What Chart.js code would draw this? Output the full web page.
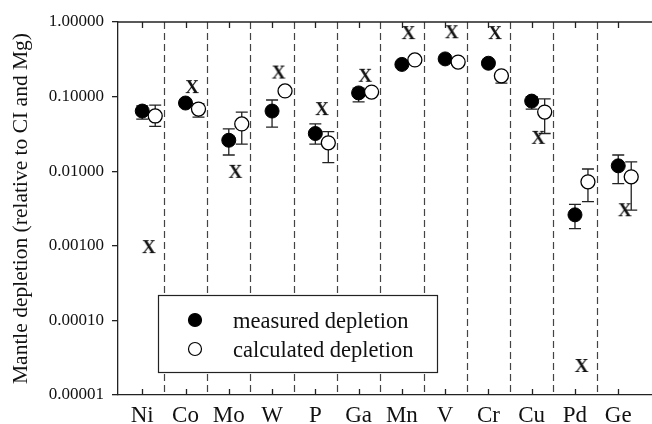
<!DOCTYPE html>
<html>
<head>
<meta charset="utf-8">
<script src="https://cdn.jsdelivr.net/npm/chart.js@4"></script>
<style>
  html, body { margin: 0; padding: 0; background: #fff; overflow: hidden; }
  #wrap { width: 652px; height: 424px; }
</style>
</head>
<body>
<div id="wrap"><canvas id="graph_zone"></canvas></div>
<script>
// data
let elements = ['Ni', 'Co', 'Mo', 'W', 'P', 'Ga', 'Mn', 'V', 'Cr', 'Cu', 'Pd', 'Ge'];

let measured = [0.064, 0.082, 0.026, 0.064, 0.032, 0.112, 0.27, 0.32, 0.28, 0.087, 0.0026, 0.0118];
let measuredLow = [0.050, null, 0.0165, 0.039, 0.023, 0.085, null, null, null, 0.068, 0.0017, 0.0068];
let measuredHigh = [0.075, null, 0.037, 0.090, 0.043, 0.13, null, null, null, 0.10, 0.0036, 0.0165];

let calculated = [0.055, 0.068, 0.043, 0.119, 0.024, 0.115, 0.31, 0.29, 0.19, 0.062, 0.0072, 0.0084];
let calculatedLow = [0.040, 0.053, 0.023, null, 0.013, null, null, null, 0.152, 0.032, 0.0039, 0.0030];
let calculatedHigh = [0.077, 0.08, 0.062, null, 0.034, null, null, null, 0.21, 0.093, 0.0107, 0.0133];

let model = [0.00096, 0.134, 0.0098, 0.21, 0.068, 0.19, 0.71, 0.73, 0.71, 0.028, 0.0000245, 0.0030];

let yTicks = [0.00001, 0.0001, 0.001, 0.01, 0.1, 1];

const serif = '"Liberation Serif", "DejaVu Serif", serif';

// bold serif "X" used as a point style
let xMark = document.createElement('canvas');
xMark.width = 18;
xMark.height = 18;
let xc = xMark.getContext('2d');
xc.font = 'bold 19px ' + serif;
xc.textAlign = 'center';
xc.textBaseline = 'middle';
xc.fillStyle = '#111';
xc.fillText('X', 9, 10);

function pts(values, shift) {
    return values.map((v, i) => ({ x: i + shift, y: v }));
}

let decorations = {
    id: 'decorations',
    beforeDatasetsDraw(chart) {
        let ctx = chart.ctx;
        let ca = chart.chartArea;
        let x = chart.scales.x;
        let y = chart.scales.y;
        ctx.save();
        // dashed separators
        ctx.strokeStyle = '#444';
        ctx.lineWidth = 1.2;
        ctx.setLineDash([7, 4]);
        for (let i = 0; i < elements.length - 1; i++) {
            let px = Math.round(x.getPixelForValue(i + 0.5)) + 0.5;
            ctx.beginPath();
            ctx.moveTo(px, ca.top);
            ctx.lineTo(px, ca.bottom);
            ctx.stroke();
        }
        ctx.setLineDash([]);
        // top frame line + inward ticks
        ctx.strokeStyle = '#222';
        ctx.lineWidth = 1.3;
        ctx.beginPath();
        ctx.moveTo(ca.left, ca.top);
        ctx.lineTo(ca.right, ca.top);
        ctx.stroke();
        elements.forEach((e, i) => {
            let px = Math.round(x.getPixelForValue(i)) + 0.5;
            ctx.beginPath();
            ctx.moveTo(px, ca.top);
            ctx.lineTo(px, ca.top + 6);
            ctx.moveTo(px, ca.bottom);
            ctx.lineTo(px, ca.bottom - 6);
            ctx.stroke();
        });
        // error bars
        ctx.strokeStyle = '#222';
        ctx.lineWidth = 1.3;
        function bars(lo, hi, shift) {
            lo.forEach((l, i) => {
                if (l == null) return;
                let px = x.getPixelForValue(i + shift);
                let y1 = y.getPixelForValue(l);
                let y2 = y.getPixelForValue(hi[i]);
                ctx.beginPath();
                ctx.moveTo(px, y1);
                ctx.lineTo(px, y2);
                ctx.moveTo(px - 6, y1);
                ctx.lineTo(px + 6, y1);
                ctx.moveTo(px - 6, y2);
                ctx.lineTo(px + 6, y2);
                ctx.stroke();
            });
        }
        bars(calculatedLow, calculatedHigh, 0.3);
        bars(measuredLow, measuredHigh, 0);
        ctx.restore();
    },
    afterDatasetsDraw(chart) {
        let ctx = chart.ctx;
        let ca = chart.chartArea;
        let left = ca.left + 40;
        let top = ca.bottom - 100;
        ctx.save();
        ctx.fillStyle = '#fff';
        ctx.fillRect(left, top, 279, 77);
        ctx.strokeStyle = '#222';
        ctx.lineWidth = 1.2;
        ctx.strokeRect(left + 0.5, top + 0.5, 279, 77);
        let rows = [
            { label: chart.data.datasets[0].label, fill: '#000', dy: 25 },
            { label: chart.data.datasets[1].label, fill: '#fff', dy: 54 }
        ];
        rows.forEach(r => {
            ctx.beginPath();
            ctx.arc(left + 37, top + r.dy, 6.5, 0, Math.PI * 2);
            ctx.fillStyle = r.fill;
            ctx.fill();
            ctx.strokeStyle = '#000';
            ctx.lineWidth = 1.2;
            ctx.stroke();
            ctx.fillStyle = '#111';
            ctx.font = '22.5px ' + serif;
            ctx.textBaseline = 'alphabetic';
            ctx.fillText(r.label, left + 75, top + r.dy + 8);
        });
        ctx.restore();
    }
};

let graph = document.querySelector('#graph_zone').getContext('2d');

let myChart = new Chart(graph, {
    type: 'scatter',
    plugins: [decorations],
    data: {
        datasets: [{
            label: 'measured depletion',
            data: pts(measured, 0),
            backgroundColor: '#000',
            borderColor: '#000',
            borderWidth: 1,
            pointRadius: 7,
            order: 2
        },
        {
            label: 'calculated depletion',
            data: pts(calculated, 0.3),
            backgroundColor: '#fff',
            borderColor: '#000',
            borderWidth: 1.3,
            pointRadius: 7,
            order: 1
        },
        {
            label: 'model',
            data: pts(model, 0.15),
            pointStyle: xMark,
            order: 0
        }]
    },
    options: {
        responsive: true,
        maintainAspectRatio: false,
        animation: false,
        layout: { padding: { top: 22, right: 0, left: 0, bottom: 0 } },
        plugins: {
            legend: { display: false },
            tooltip: { enabled: false }
        },
        scales: {
            x: {
                type: 'linear',
                min: -0.56,
                max: 11.78,
                afterBuildTicks: s => {
                    s.ticks = elements.map((e, i) => ({ value: i }));
                    // labels never reach the edges, so no extra side padding
                    s._calculatePadding = function () {
                        this.paddingLeft = 0;
                        this.paddingRight = 0;
                        this.paddingTop = 0;
                        this.paddingBottom = 0;
                    };
                },
                afterFit: s => { s.height = 29; },
                ticks: {
                    autoSkip: false,
                    maxRotation: 0,
                    padding: 0,
                    color: '#111',
                    font: { family: serif, size: 23 },
                    callback: v => elements[v]
                },
                // invisible tick marks only push the labels down
                grid: { display: true, drawOnChartArea: false, drawTicks: true, tickLength: 7, color: 'rgba(0,0,0,0)' },
                border: { display: true, color: '#222', width: 1.3 }
            },
            y: {
                type: 'logarithmic',
                min: 0.00001,
                max: 1,
                afterBuildTicks: s => { s.ticks = yTicks.map(v => ({ value: v })); },
                afterFit: s => { s.width = 118; },
                ticks: {
                    padding: 8,
                    color: '#111',
                    font: { family: serif, size: 17 },
                    callback: v => Number(v).toFixed(5)
                },
                grid: { drawOnChartArea: false, drawTicks: true, tickLength: 6, color: '#222', lineWidth: 1.3 },
                border: { display: true, color: '#222', width: 1.3 },
                title: {
                    display: true,
                    text: 'Mantle depletion (relative to CI and Mg)',
                    color: '#111',
                    font: { family: serif, size: 21.5 },
                    padding: { top: 8, bottom: 0 }
                }
            }
        }
    }
});

// if the layout still leaves a strip on the right, widen the canvas past the window edge
let gap = myChart.width - myChart.chartArea.right;
if (gap > 0.5) {
    document.querySelector('#wrap').style.width = (652 + gap) + 'px';
    myChart.resize();
}
</script>
</body>
</html>
